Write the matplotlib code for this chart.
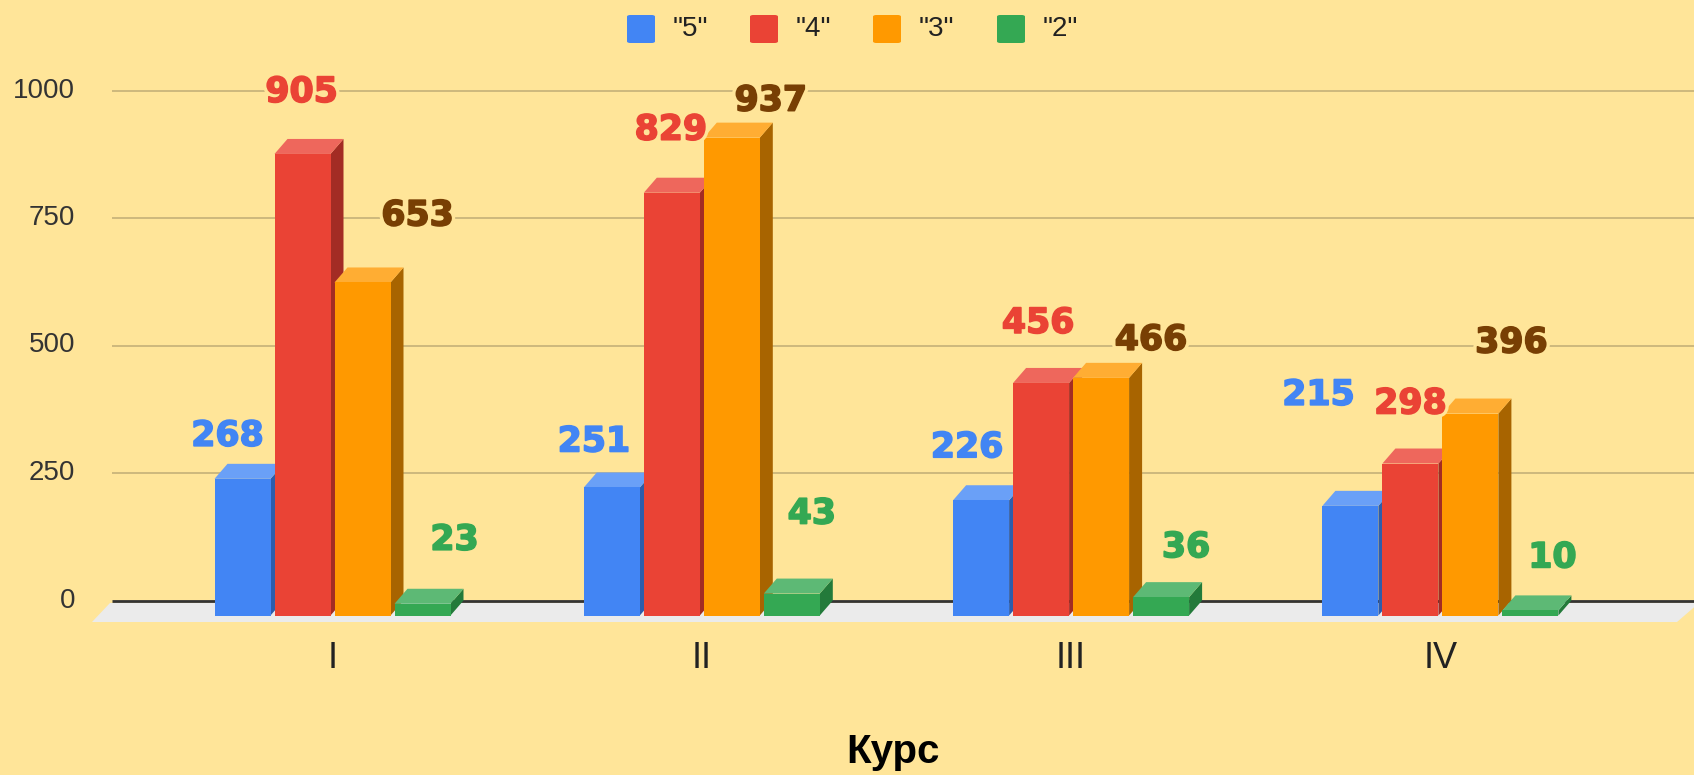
import matplotlib
matplotlib.use("Agg")
import matplotlib.pyplot as plt
from matplotlib.patches import Polygon, Rectangle, FancyBboxPatch
import matplotlib.patheffects as pe

# ---------------- data ----------------
categories = ["I", "II", "III", "IV"]
series_names = ['"5"', '"4"', '"3"', '"2"']
grade5 = [268, 251, 226, 215]
grade4 = [905, 829, 456, 298]
grade3 = [653, 937, 466, 396]
grade2 = [23, 43, 36, 10]
y_ticks = [0, 250, 500, 750, 1000]
x_title = "Курс"

series_values = [grade5, grade4, grade3, grade2]

# ---------------- styles ----------------
front_colors = ["#4285F4", "#EA4335", "#FF9900", "#34A853"]
top_colors = ["#6AA0F7", "#EE675C", "#FFAD33", "#5DB975"]
side_colors = ["#2E5DAB", "#A32C24", "#A86400", "#237A3A"]
label_colors = ["#4285F4", "#EA4335", "#783F04", "#34A853"]
bg = "#FFE599"
grid_color = "#C9B57A"

# annotation offsets (pixels) relative to the top-centre of each bar front face
label_dx = [[-15, -18, -14, -32], [-1, -1, -3, 0], [55, 39, 50, 41], [32, 20, 25, 22]]
label_dy = [[43, 46, 53, 111], [62, 63, 60, 60], [67, 37, 38, 71], [64, 80, 50, 53]]

W, H = 1694, 775
fig = plt.figure(figsize=(W / 100, H / 100), dpi=100, facecolor=bg)
ax = fig.add_axes([0, 0, 1, 1])
ax.set_facecolor(bg)
ax.axis("off")

# pixel <-> data scale
PX_PER_GROUP = 369.3
PX_PER_UNIT = 0.51
X0_PX = 332.5
Y0_PX = 615.5  # pixel row (from top) of value 0 on the front plane
ax.set_xlim(-X0_PX / PX_PER_GROUP, (W - X0_PX) / PX_PER_GROUP)
ax.set_ylim((Y0_PX - H) / PX_PER_UNIT, Y0_PX / PX_PER_UNIT)


def px_x(p):
    return p / PX_PER_GROUP


def px_y(p):
    return p / PX_PER_UNIT


def abs_x(p):
    return (p - X0_PX) / PX_PER_GROUP


def abs_y(p):
    return (Y0_PX - p) / PX_PER_UNIT


depth_dx = px_x(13)
depth_dy = px_y(15)
bar_w = px_x(56)
pitch = px_x(60)

# floor
floor = Polygon([(abs_x(110), abs_y(603)), (abs_x(W + 5), abs_y(603)),
                 (abs_x(1677), abs_y(622)), (abs_x(92), abs_y(622))],
                closed=True, facecolor="#EBEBEB", edgecolor="none", zorder=1)
ax.add_patch(floor)

# gridlines on back wall
xg0 = abs_x(112)
xg1 = abs_x(W + 5)
for t in y_ticks:
    yb = t + depth_dy
    if t == 0:
        ax.plot([xg0, xg1], [yb, yb], color="#333333", lw=2.0, zorder=2, solid_capstyle="butt")
    else:
        ax.plot([xg0, xg1], [yb, yb], color=grid_color, lw=1.3, zorder=2, solid_capstyle="butt")
    ax.text(abs_x(75), yb, str(t), ha="right", va="center", fontsize=20,
            family="Liberation Sans", color="#333333", zorder=2)

# bars
z = 3
for g in range(len(categories)):
    for s, vals in enumerate(series_values):
        v = vals[g]
        xc = g + (s - 1.5) * pitch
        xl = xc - bar_w / 2
        xr = xc + bar_w / 2
        side = Polygon([(xr, 0), (xr + depth_dx, depth_dy), (xr + depth_dx, v + depth_dy), (xr, v)],
                       closed=True, facecolor=side_colors[s], edgecolor="none", zorder=z)
        top = Polygon([(xl, v), (xr, v), (xr + depth_dx, v + depth_dy), (xl + depth_dx, v + depth_dy)],
                      closed=True, facecolor=top_colors[s], edgecolor="none", zorder=z)
        front = Rectangle((xl, 0), bar_w, v, facecolor=front_colors[s], edgecolor="none", zorder=z + 0.5)
        ax.add_patch(side)
        ax.add_patch(top)
        ax.add_patch(front)
        z += 1

# value labels
for s, vals in enumerate(series_values):
    for g in range(len(categories)):
        v = vals[g]
        xc = g + (s - 1.5) * pitch
        ax.annotate(str(v), xy=(xc, v), xytext=(label_dx[s][g], label_dy[s][g]),
                    textcoords="offset pixels", ha="center", va="center",
                    fontsize=25, fontweight="bold", family="DejaVu Sans",
                    color=label_colors[s], zorder=100,
                    path_effects=[pe.withStroke(linewidth=6, foreground=bg),
                                  pe.withStroke(linewidth=1.2, foreground=label_colors[s])])

# category labels
for g, c in enumerate(categories):
    ax.text(g, abs_y(659), c, ha="center", va="center", fontsize=26,
            family="Liberation Sans", color="#222222", zorder=5)

# axis title
ax.text(abs_x(893), abs_y(752), x_title, ha="center", va="center", fontsize=29,
        fontweight="bold", family="Liberation Sans", color="#000000")

# legend
legend_box_x = [627, 750, 873, 997]
for s, name in enumerate(series_names):
    bx = legend_box_x[s]
    box = FancyBboxPatch((bx / W, 1 - 43 / H), 28 / W, 28 / H,
                         boxstyle="round,pad=0,rounding_size=0.002",
                         transform=fig.transFigure, facecolor=front_colors[s],
                         edgecolor="none")
    fig.patches.append(box)
    fig.text((bx + 46) / W, 1 - 29 / H, name, ha="left", va="center", fontsize=20,
             family="Liberation Sans", color="#222222")

fig.savefig("out.png", dpi=100, facecolor=bg)
